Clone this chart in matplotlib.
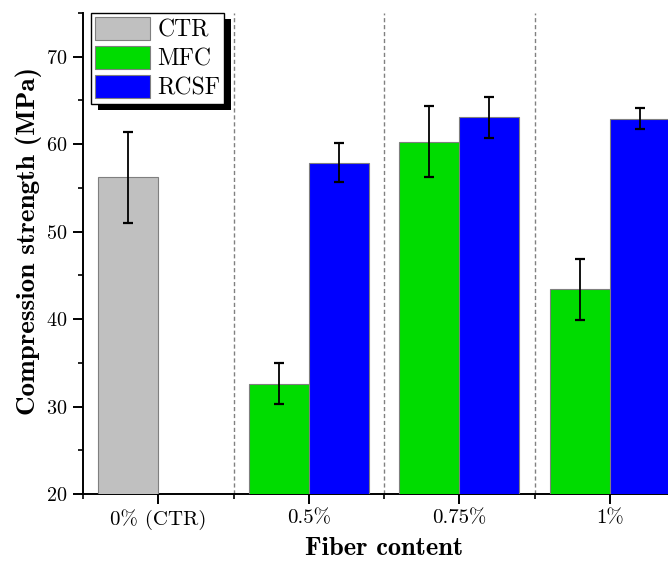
import matplotlib
matplotlib.use("Agg")
import matplotlib.pyplot as plt
import numpy as np
from matplotlib.patches import Rectangle
from matplotlib.transforms import IdentityTransform

plt.rcParams.update({
    'font.family': 'cmr10',
    'mathtext.fontset': 'cm',
    'axes.unicode_minus': False,
    'axes.formatter.use_mathtext': True,
})

categories = ['0% (CTR)', '0.5%', '0.75%', '1%']
ctr_mean = [56.2]
ctr_err = [5.2]
mfc_mean = [32.6, 60.3, 43.4]
mfc_err = [2.35, 4.05, 3.5]
rcsf_mean = [57.9, 63.1, 62.9]
rcsf_err = [2.2, 2.35, 1.2]

c_ctr = '#C0C0C0'
c_mfc = '#00DC00'
c_rcsf = '#0000FF'

fig = plt.figure(figsize=(6.68, 5.63), dpi=100)
# axis runs past the right edge of the picture, as in the original
ax = fig.add_axes([83 / 668, 69 / 563, 602 / 668, 481 / 563])

x = np.arange(len(categories))
w = 0.4
err_kw = dict(ecolor='black', elinewidth=1.3, capsize=3.8, capthick=1.6)

ax.bar(x[0] - w / 2, ctr_mean, w, yerr=ctr_err, color=c_ctr,
       edgecolor='#7F7F7F', linewidth=0.8, error_kw=err_kw, label='CTR', zorder=3)
ax.bar(x[1:] - w / 2, mfc_mean, w, yerr=mfc_err, color=c_mfc,
       edgecolor='#7F7F7F', linewidth=0.8, error_kw=err_kw, label='MFC', zorder=3)
ax.bar(x[1:] + w / 2, rcsf_mean, w, yerr=rcsf_err, color=c_rcsf,
       edgecolor='#7F7F7F', linewidth=0.8, error_kw=err_kw, label='RCSF', zorder=3)

# dashed separators between groups
for b in x[:-1] + 0.5:
    ax.axvline(b, color='#808080', linestyle=(0, (3, 2)), linewidth=1.0, zorder=1)

ax.set_xlim(-0.5, 3.5)
ax.set_ylim(20, 75)
ax.set_xticks(x)
ax.set_xticklabels(categories, fontsize=15)
ax.set_xticks(np.arange(-0.5, 3.6, 1.0), minor=True)
ax.set_yticks(np.arange(20, 71, 10))
ax.set_yticks(np.arange(25, 76, 10), minor=True)
ax.tick_params(axis='y', labelsize=14.5)
ax.tick_params(which='major', direction='out', length=7, width=1.4, pad=4)
ax.tick_params(which='minor', direction='out', length=3.5, width=1.2)

for s in ['top', 'right']:
    ax.spines[s].set_visible(False)
for s in ['left', 'bottom']:
    ax.spines[s].set_linewidth(1.4)

ax.set_xlabel('Fiber content', fontsize=19, family='cmb10', labelpad=5)
ax.set_ylabel('Compression strength (MPa)', fontsize=19.5, family='cmb10')
ax.yaxis.set_label_coords(-0.068, 0.526)

leg = ax.legend(loc='upper left', bbox_to_anchor=(0.013, 1.0), borderaxespad=0,
                fontsize=17, frameon=True, fancybox=False, edgecolor='black',
                handlelength=2.33, handleheight=1.1, labelspacing=0.2,
                borderpad=0.18, handletextpad=0.3)
leg.get_frame().set_linewidth(1.0)
leg.get_frame().set_alpha(1)
leg.set_zorder(6)

# solid black drop shadow behind the legend
fig.canvas.draw()
bb = leg.get_window_extent()
ox, oy = 7, -6
shadow = Rectangle((bb.x0 + ox, bb.y0 + oy), bb.width, bb.height,
                   transform=IdentityTransform(), facecolor='black',
                   edgecolor='none', zorder=5, clip_on=False)
ax.add_artist(shadow)

fig.savefig('out.png', dpi=100)
